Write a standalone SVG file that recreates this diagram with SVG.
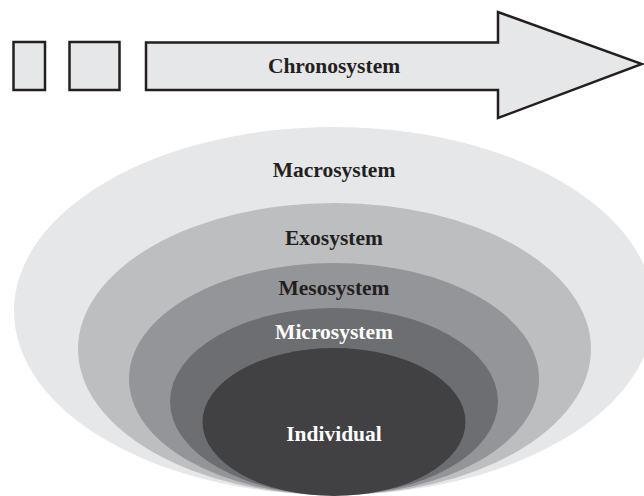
<svg xmlns="http://www.w3.org/2000/svg" width="644" height="496" viewBox="0 0 644 496">
<style>
.box{fill:#e6e7e8;stroke:#231f20;stroke-width:2.5;stroke-linejoin:miter}
.lbl{font-family:"Liberation Serif","Times New Roman",serif;font-weight:bold;font-size:21.5px;text-anchor:middle}
.dark{fill:#231f20}
.light{fill:#ffffff}
</style>
<rect width="644" height="496" fill="#ffffff"/>
<g id="chrono">
<rect id="past1" class="box" x="13.5" y="42" width="31.5" height="48"/>
<rect id="past2" class="box" x="69.5" y="42" width="50" height="48"/>
<polygon id="arrow" class="box" points="146,42.5 498,42.5 498,12 642,64 498,118 498,90 146,90"/>
<text class="lbl dark" x="334" y="73">Chronosystem</text>
</g>
<g id="macrosystem">
<ellipse cx="334" cy="311" rx="320" ry="184" fill="#e6e7e8"/>
<text class="lbl dark" x="334" y="177">Macrosystem</text>
</g>
<g id="exosystem">
<ellipse cx="334.5" cy="349" rx="256.5" ry="146" fill="#bcbec0"/>
<text class="lbl dark" x="334" y="245">Exosystem</text>
</g>
<g id="mesosystem">
<ellipse cx="334" cy="379" rx="205" ry="116" fill="#939598"/>
<text class="lbl dark" x="334" y="295">Mesosystem</text>
</g>
<g id="microsystem">
<ellipse cx="334" cy="401.5" rx="164" ry="93.5" fill="#6d6e71"/>
<text class="lbl light" x="334" y="339">Microsystem</text>
</g>
<g id="individual">
<ellipse cx="334" cy="422" rx="131.5" ry="74" fill="#414042"/>
<text class="lbl light" x="334" y="441">Individual</text>
</g>
<g id="connectors"></g>
</svg>
